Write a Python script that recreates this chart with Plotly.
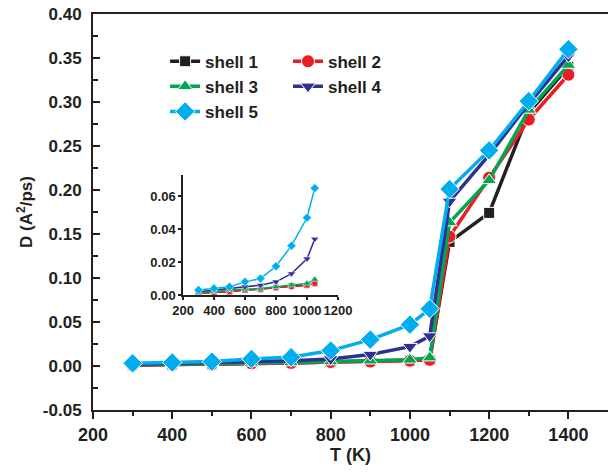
import plotly.graph_objects as go

T = [300, 400, 500, 600, 700, 800, 900, 1000, 1050, 1100, 1200, 1300, 1400]
shell1 = [0.001, 0.0015, 0.002, 0.003, 0.0035, 0.0045, 0.0055, 0.006, 0.007, 0.141, 0.174, 0.288, 0.340]
shell2 = [0.001, 0.0015, 0.002, 0.003, 0.0035, 0.0045, 0.005, 0.006, 0.007, 0.147, 0.214, 0.280, 0.331]
shell3 = [0.0015, 0.002, 0.003, 0.0035, 0.004, 0.005, 0.006, 0.007, 0.0095, 0.163, 0.211, 0.291, 0.342]
shell4 = [0.002, 0.003, 0.004, 0.005, 0.006, 0.008, 0.013, 0.022, 0.034, 0.187, 0.240, 0.298, 0.352]
shell5 = [0.003, 0.004, 0.005, 0.008, 0.010, 0.0175, 0.030, 0.047, 0.065, 0.201, 0.245, 0.301, 0.360]
names = ["shell 1", "shell 2", "shell 3", "shell 4", "shell 5"]
N_INSET = 9  # inset shows T <= 1050

y_ticks = [-0.05, 0, 0.05, 0.10, 0.15, 0.20, 0.25, 0.30, 0.35, 0.40]
y_ticklabels = ["-0.05", "0.00", "0.05", "0.10", "0.15", "0.20", "0.25", "0.30", "0.35", "0.40"]

series = [shell1, shell2, shell3, shell4, shell5]
colors = ["#231f20", "#ed1c24", "#00a651", "#2e3192", "#00aeef"]
symbols = ["square", "circle", "triangle-up", "triangle-down", "diamond"]
msize = [11, 13, 13, 13, 15]
msize_in = [6, 6, 7, 7, 7]
legends = ["legend", "legend2", "legend", "legend2", "legend"]

AX = "#231f20"
FONT = "Liberation Sans, Arial, sans-serif"

fig = go.Figure()
for s, n, c, sym, ms, lg in zip(series, names, colors, symbols, msize, legends):
    fig.add_trace(go.Scatter(
        x=T, y=s, name=n, mode="lines+markers", legend=lg,
        line=dict(color=c, width=3.5),
        marker=dict(symbol=sym, size=ms, color=c, line=dict(color="white", width=1)),
    ))
for s, n, c, sym, ms in zip(series, names, colors, symbols, msize_in):
    fig.add_trace(go.Scatter(
        x=T[:N_INSET], y=s[:N_INSET], name=n, mode="lines+markers", showlegend=False,
        xaxis="x2", yaxis="y2",
        line=dict(color=c, width=1.5),
        marker=dict(symbol=sym, size=ms, color=c, line=dict(color="white", width=0.5)),
    ))

fig.update_layout(
    template="none",
    width=608, height=476, autosize=False,
    margin=dict(l=93, r=0, t=14, b=66, pad=0, autoexpand=False),
    paper_bgcolor="white", plot_bgcolor="white",
    font=dict(family=FONT, color=AX),
    xaxis=dict(
        range=[200, 1500], tickmode="array", tickvals=[200, 400, 600, 800, 1000, 1200, 1400],
        automargin=False,
        showgrid=False, zeroline=False, showline=True, linecolor=AX, linewidth=2, mirror=True,
        ticks="outside", ticklen=7, tickwidth=2, tickcolor=AX,
        minor=dict(tickvals=[300, 500, 700, 900, 1100, 1300], ticks="outside", ticklen=4, tickwidth=2, tickcolor=AX),
        tickfont=dict(size=18, weight="bold", family=FONT, color=AX),
        title=dict(text="T (K)", font=dict(size=18, weight="bold", family=FONT, color=AX), standoff=4),
    ),
    yaxis=dict(
        range=[-0.05, 0.40], tickmode="array",
        tickvals=y_ticks, ticktext=y_ticklabels,
        automargin=False,
        showgrid=False, zeroline=False, showline=True, linecolor=AX, linewidth=2,
        ticks="inside", ticklen=7, tickwidth=2, tickcolor=AX, ticklabelstandoff=6,
        minor=dict(tickvals=[-0.025, 0.025, 0.075, 0.125, 0.175, 0.225, 0.275, 0.325, 0.375],
                   ticks="inside", ticklen=5, tickwidth=2, tickcolor=AX),
        tickfont=dict(size=17, weight="bold", family=FONT, color=AX),
        title=dict(text="D (A<sup>2</sup>/ps)", font=dict(size=17, weight="bold", family=FONT, color=AX), standoff=6),
    ),
    xaxis2=dict(
        domain=[0.1748, 0.4757], anchor="y2", range=[200, 1200], automargin=False,
        tickvals=[200, 400, 600, 800, 1000, 1200], tickangle=0,
        showgrid=False, zeroline=False, showline=True, linecolor=AX, linewidth=1.5,
        ticks="outside", ticklen=3, tickwidth=1.5, tickcolor=AX,
        tickfont=dict(size=13, weight="bold", family=FONT, color=AX),
    ),
    yaxis2=dict(
        domain=[0.2904, 0.5934], anchor="x2", range=[0, 0.073], automargin=False,
        tickvals=[0, 0.02, 0.04, 0.06], tickformat=".2f",
        showgrid=False, zeroline=False, showline=True, linecolor=AX, linewidth=1.5,
        ticks="outside", ticklen=3, tickwidth=1.5, tickcolor=AX,
        tickfont=dict(size=13, weight="bold", family=FONT, color=AX),
    ),
    legend=dict(x=0.14, y=0.925, xanchor="left", yanchor="top", bgcolor="rgba(0,0,0,0)",
                font=dict(size=17, weight="bold", family=FONT, color=AX), tracegroupgap=0),
    legend2=dict(x=0.3786, y=0.925, xanchor="left", yanchor="top", bgcolor="rgba(0,0,0,0)",
                 font=dict(size=17, weight="bold", family=FONT, color=AX), tracegroupgap=0),
)

fig.write_html("out.html")
